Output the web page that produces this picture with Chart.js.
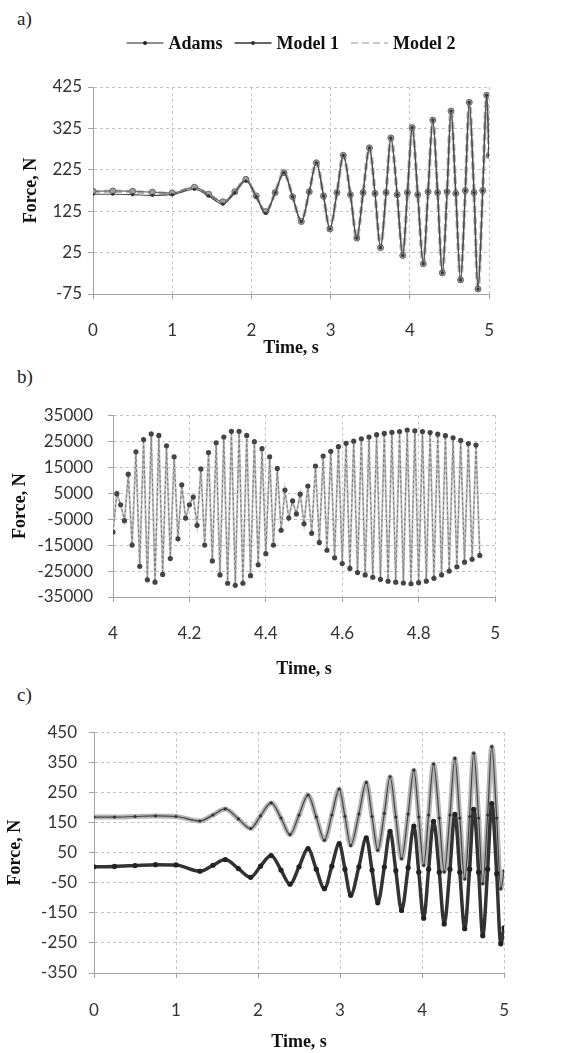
<!DOCTYPE html>
<html lang="en">
<head>
    <meta charset="UTF-8">
    <title>Force vs time - Adams, Model 1, Model 2</title>
    <script src="https://cdn.jsdelivr.net/npm/chart.js"></script>
    <style>
        body { margin: 0; background: #fff; }
        .page { position: relative; width: 570px; height: 1053px; overflow: hidden; }
        .panel-label { position: absolute; left: 17px; font-family: "Liberation Serif", serif; font-size: 19px; line-height: 1; color: #222; }
        canvas { position: absolute; left: 0; }
    </style>
</head>
<body>
<div class="page">
    <div class="panel-label" style="top:9px">a)</div>
    <div class="panel-label" style="top:367px">b)</div>
    <div class="panel-label" style="top:685px">c)</div>
    <canvas id="chartA" width="515" height="359" style="top:0"></canvas>
    <canvas id="chartB" width="521" height="290" style="top:390px"></canvas>
    <canvas id="chartC" width="531" height="343" style="top:710px"></canvas>
</div>

<script>
    // ---- panel a: force over the full run ----
    const timeA = [0, 0.25, 0.5, 0.75, 1.0, 1.28, 1.46, 1.64, 1.79, 1.93, 2.06, 2.18, 2.30, 2.41, 2.52, 2.63, 2.73,
        2.82, 2.91, 2.99, 3.08, 3.16, 3.25, 3.33, 3.41, 3.49, 3.56, 3.63, 3.70, 3.76, 3.84, 3.91, 3.97, 4.03, 4.10,
        4.17, 4.23, 4.29, 4.35, 4.41, 4.47, 4.52, 4.58, 4.64, 4.70, 4.75, 4.81, 4.86, 4.92, 4.97, 5.0];
    const adamsA = [166, 166, 165, 163, 165, 178, 162, 142, 170, 198, 160, 120, 170, 218, 160, 100, 172,
        242, 162, 82, 170, 260, 165, 60, 170, 278, 168, 37, 170, 302, 165, 18, 170, 327, 165,
        -2, 172, 345, 170, -24, 172, 367, 168, -41, 175, 388, 170, -63, 175, 405, 260];
    const model1A = [173, 174, 173, 171, 169, 183, 166, 148, 172, 202, 162, 124, 170, 218, 160, 100, 172,
        242, 162, 82, 170, 260, 165, 60, 170, 278, 168, 37, 170, 302, 165, 18, 170, 327, 165,
        -2, 172, 345, 170, -24, 172, 367, 168, -41, 175, 388, 170, -63, 175, 405, 260];
    const model2A = [172, 173, 172, 170, 168, 182, 165, 147, 171, 201, 161, 123, 170, 219, 160, 101, 172,
        243, 162, 83, 170, 261, 165, 61, 170, 279, 168, 38, 170, 303, 165, 19, 170, 328, 165,
        -1, 172, 346, 170, -23, 172, 368, 168, -40, 175, 389, 170, -62, 175, 406, 262];
    const xTicksA = [0, 1, 2, 3, 4, 5];
    const yTicksA = [-75, 25, 125, 225, 325, 425];

    // ---- panel b: zoom on 4-5 s ----
    const timeB = [4.00, 4.01, 4.02, 4.03, 4.04, 4.05, 4.06, 4.07, 4.08, 4.09, 4.10, 4.11, 4.12, 4.13, 4.14, 4.15,
        4.16, 4.17, 4.18, 4.19, 4.20, 4.21, 4.22, 4.23, 4.24, 4.25, 4.26, 4.27, 4.28, 4.29, 4.30, 4.31, 4.32, 4.33,
        4.34, 4.35, 4.36, 4.37, 4.38, 4.39, 4.40, 4.41, 4.42, 4.43, 4.44, 4.45, 4.46, 4.47, 4.48, 4.49, 4.50, 4.51,
        4.52, 4.53, 4.54, 4.55, 4.56, 4.57, 4.58, 4.59, 4.60, 4.61, 4.62, 4.63, 4.64, 4.65, 4.66, 4.67, 4.68, 4.69,
        4.70, 4.71, 4.72, 4.73, 4.74, 4.75, 4.76, 4.77, 4.78, 4.79, 4.80, 4.81, 4.82, 4.83, 4.84, 4.85, 4.86, 4.87,
        4.88, 4.89, 4.90, 4.91, 4.92, 4.93, 4.94, 4.95, 4.96];
    const forceB = [-10000, 4800, 500, -5600, 12300, -15000, 20900, -23200, 25600, -28400, 27800, -29300, 27200,
        -26300, 23200, -20200, 19000, -12600, 8200, -4600, 500, 3500, -7400, 14300, -15000, 20600, -21100, 24400,
        -26500, 26600, -29700, 28800, -30500, 28800, -29700, 27200, -26800, 24800, -22600, 22100, -18300, 19000,
        -15000, 14500, -9300, 6200, -4600, 2000, -3000, 4600, -6800, 7700, -10500, 15400, -14000, 19300, -17000,
        21100, -19900, 22900, -22100, 24200, -24000, 25000, -25600, 25900, -26500, 26600, -27400, 27500, -28200,
        28000, -28900, 28400, -29300, 28700, -29600, 29300, -29900, 29000, -29500, 28700, -28900, 28300, -27800,
        27700, -26500, 27100, -25000, 26300, -23400, 25300, -21600, 24100, -20500, 23500, -19000];
    const xTicksB = [4, 4.2, 4.4, 4.6, 4.8, 5];
    const yTicksB = [-35000, -25000, -15000, -5000, 5000, 15000, 25000, 35000];

    // ---- panel c: two force components ----
    const timeC = [0, 0.25, 0.5, 0.75, 1.0, 1.29, 1.45, 1.60, 1.76, 1.91, 2.03, 2.16, 2.28, 2.39, 2.50, 2.61, 2.71,
        2.81, 2.90, 2.99, 3.06, 3.13, 3.23, 3.32, 3.39, 3.46, 3.54, 3.61, 3.68, 3.75, 3.83, 3.90, 3.96, 4.02, 4.08,
        4.14, 4.21, 4.27, 4.34, 4.40, 4.46, 4.52, 4.58, 4.63, 4.69, 4.74, 4.80, 4.85, 4.91, 4.96, 5.0];
    const upperC = [168, 168, 170, 172, 170, 155, 175, 195, 162, 130, 172, 215, 165, 110, 175, 241, 168,
        91, 175, 261, 170, 74, 178, 283, 170, 58, 180, 302, 168, 30, 178, 324, 168, 8, 175,
        344, 165, -14, 175, 363, 165, -37, 170, 380, 165, -53, 175, 402, 165, -70, -10];
    const lowerC = [3, 4, 7, 10, 9, -12, 8, 27, -3, -32, 5, 40, -8, -55, 3, 63, -5,
        -70, 5, 80, -5, -92, 3, 99, -8, -117, 2, 121, -10, -142, 0, 138, -15, -168, -5,
        154, -15, -187, -5, 177, -15, -203, -5, 194, -15, -226, -5, 213, -20, -253, -200];
    const xTicksC = [0, 1, 2, 3, 4, 5];
    const yTicksC = [-350, -250, -150, -50, 50, 150, 250, 350, 450];

    Chart.defaults.font.family = 'Lato, "Open Sans", sans-serif';
    Chart.defaults.color = '#333';

    const titleFont = { family: '"Liberation Serif", serif', size: 18, weight: 'bold' };

    function points(xs, ys) {
        return xs.map((x, i) => ({ x: x, y: ys[i] }));
    }

    function axes(o) {
        const grid = { color: '#c2c2c2', tickColor: '#a3a3a3', tickLength: 5 };
        const border = { color: '#a3a3a3', dash: [3, 3] };
        return {
            x: {
                type: 'linear', min: o.xTicks[0], max: o.xTicks[o.xTicks.length - 1],
                afterBuildTicks: s => { s.ticks = o.xTicks.map(v => ({ value: v })); },
                afterFit: s => { s.height = o.xHeight; },
                ticks: { padding: o.xPad, font: { size: 17 }, maxRotation: 0, autoSkip: false, callback: v => String(v) },
                grid: grid, border: border,
                title: { display: true, text: 'Time, s', color: '#111', font: titleFont, padding: 0 }
            },
            y: {
                min: o.yTicks[0], max: o.yTicks[o.yTicks.length - 1],
                afterBuildTicks: s => { s.ticks = o.yTicks.map(v => ({ value: v })); },
                afterFit: s => { s.width = o.yWidth; },
                ticks: { padding: o.yPad, font: { size: 17 }, autoSkip: false, callback: v => String(v) },
                grid: grid, border: border,
                title: { display: true, text: 'Force, N', color: '#111', font: titleFont, padding: { top: o.yTitlePad, bottom: 0 } }
            }
        };
    }

    // legend drawn as line sample + dot + label, like the original
    const lineLegend = {
        id: 'lineLegend',
        afterDraw(chart, args, opts) {
            const ctx = chart.ctx;
            const sets = chart.data.datasets;
            const sample = 37, gapText = 5, gapItem = 12;
            ctx.save();
            ctx.font = 'bold 18px "Liberation Serif", serif';
            const widths = sets.map(d => ctx.measureText(d.label).width);
            const total = widths.reduce((a, w) => a + sample + gapText + w, 0) + gapItem * (sets.length - 1);
            let x = (chart.chartArea.left + chart.chartArea.right) / 2 - total / 2;
            const y = opts.y;
            sets.forEach((d, i) => {
                ctx.beginPath();
                ctx.setLineDash(d.borderDash || []);
                ctx.strokeStyle = d.legendColor || d.borderColor;
                ctx.lineWidth = Math.min(d.borderWidth, 1.5);
                ctx.moveTo(x, y);
                ctx.lineTo(x + sample, y);
                ctx.stroke();
                ctx.setLineDash([]);
                if (d.pointRadius > 0) {
                    ctx.beginPath();
                    ctx.arc(x + sample / 2, y, 2, 0, Math.PI * 2);
                    ctx.fillStyle = d.legendColor || d.borderColor;
                    ctx.fill();
                }
                ctx.fillStyle = '#111';
                ctx.textBaseline = 'middle';
                ctx.fillText(d.label, x + sample + gapText, y + 1);
                x += sample + gapText + widths[i] + gapItem;
            });
            ctx.restore();
        }
    };

    const baseOptions = {
        responsive: false,
        animation: false,
        devicePixelRatio: 1,
        events: []
    };

    // panel a
    new Chart(document.getElementById('chartA'), {
        type: 'line',
        data: {
            datasets: [
                { label: 'Adams', data: points(timeA, adamsA), borderColor: '#4a4a4a', legendColor: '#222', borderWidth: 1.2,
                  pointRadius: 1.6, pointBackgroundColor: '#333', pointBorderWidth: 0, cubicInterpolationMode: 'monotone' },
                { label: 'Model 1', data: points(timeA, model1A), borderColor: '#6e6e6e', legendColor: '#333', borderWidth: 1.4,
                  pointRadius: 3, pointBackgroundColor: '#a0a0a0', pointBorderColor: '#666', pointBorderWidth: 1, cubicInterpolationMode: 'monotone' },
                { label: 'Model 2', data: points(timeA, model2A), borderColor: '#b8b8b8', borderWidth: 3.5, borderDash: [7, 4],
                  pointRadius: 0, cubicInterpolationMode: 'monotone' }
            ]
        },
        options: Object.assign({}, baseOptions, {
            layout: { padding: { top: 87, right: 15, bottom: 0, left: 0 } },
            scales: axes({ xTicks: xTicksA, yTicks: yTicksA, xHeight: 65, xPad: 21, yWidth: 93, yPad: 6, yTitlePad: 21 }),
            plugins: { legend: { display: false }, tooltip: { enabled: false }, lineLegend: { y: 43 } }
        }),
        plugins: [lineLegend]
    });

    // panel b
    new Chart(document.getElementById('chartB'), {
        type: 'line',
        data: {
            datasets: [
                { label: 'Model 1', data: points(timeB, forceB), borderColor: '#7a7a7a', borderWidth: 1, borderDash: [3, 2],
                  pointRadius: 2.6, pointBackgroundColor: '#444', pointBorderColor: '#444', pointBorderWidth: 0, tension: 0 },
                { label: 'Model 2', data: points(timeB, forceB), borderColor: '#c4c4c4', borderWidth: 2,
                  pointRadius: 0, tension: 0 }
            ]
        },
        options: Object.assign({}, baseOptions, {
            layout: { padding: { top: 17, right: 15, bottom: 0, left: 0 } },
            scales: axes({ xTicks: xTicksB, yTicks: yTicksB, xHeight: 83, xPad: 21, yWidth: 113, yPad: 15, yTitlePad: 10 }),
            plugins: { legend: { display: false }, tooltip: { enabled: false } }
        })
    });

    // panel c
    new Chart(document.getElementById('chartC'), {
        type: 'line',
        data: {
            datasets: [
                { label: 'Adams', data: points(timeC, upperC), borderColor: '#444', borderWidth: 1.2,
                  pointRadius: 1.6, pointBackgroundColor: '#333', pointBorderWidth: 0, cubicInterpolationMode: 'monotone' },
                { label: 'Model 1', data: points(timeC, lowerC), borderColor: '#333', borderWidth: 3.5,
                  pointRadius: 2.6, pointBackgroundColor: '#222', pointBorderWidth: 0, cubicInterpolationMode: 'monotone' },
                { label: 'Model 2', data: points(timeC, upperC), borderColor: '#b4b4b4', borderWidth: 5,
                  pointRadius: 0, cubicInterpolationMode: 'monotone' }
            ]
        },
        options: Object.assign({}, baseOptions, {
            layout: { padding: { top: 18, right: 15, bottom: 0, left: 0 } },
            scales: axes({ xTicks: xTicksC, yTicks: yTicksC, xHeight: 80, xPad: 22, yWidth: 94, yPad: 12, yTitlePad: 5 }),
            plugins: { legend: { display: false }, tooltip: { enabled: false } }
        })
    });
</script>
</body>
</html>
